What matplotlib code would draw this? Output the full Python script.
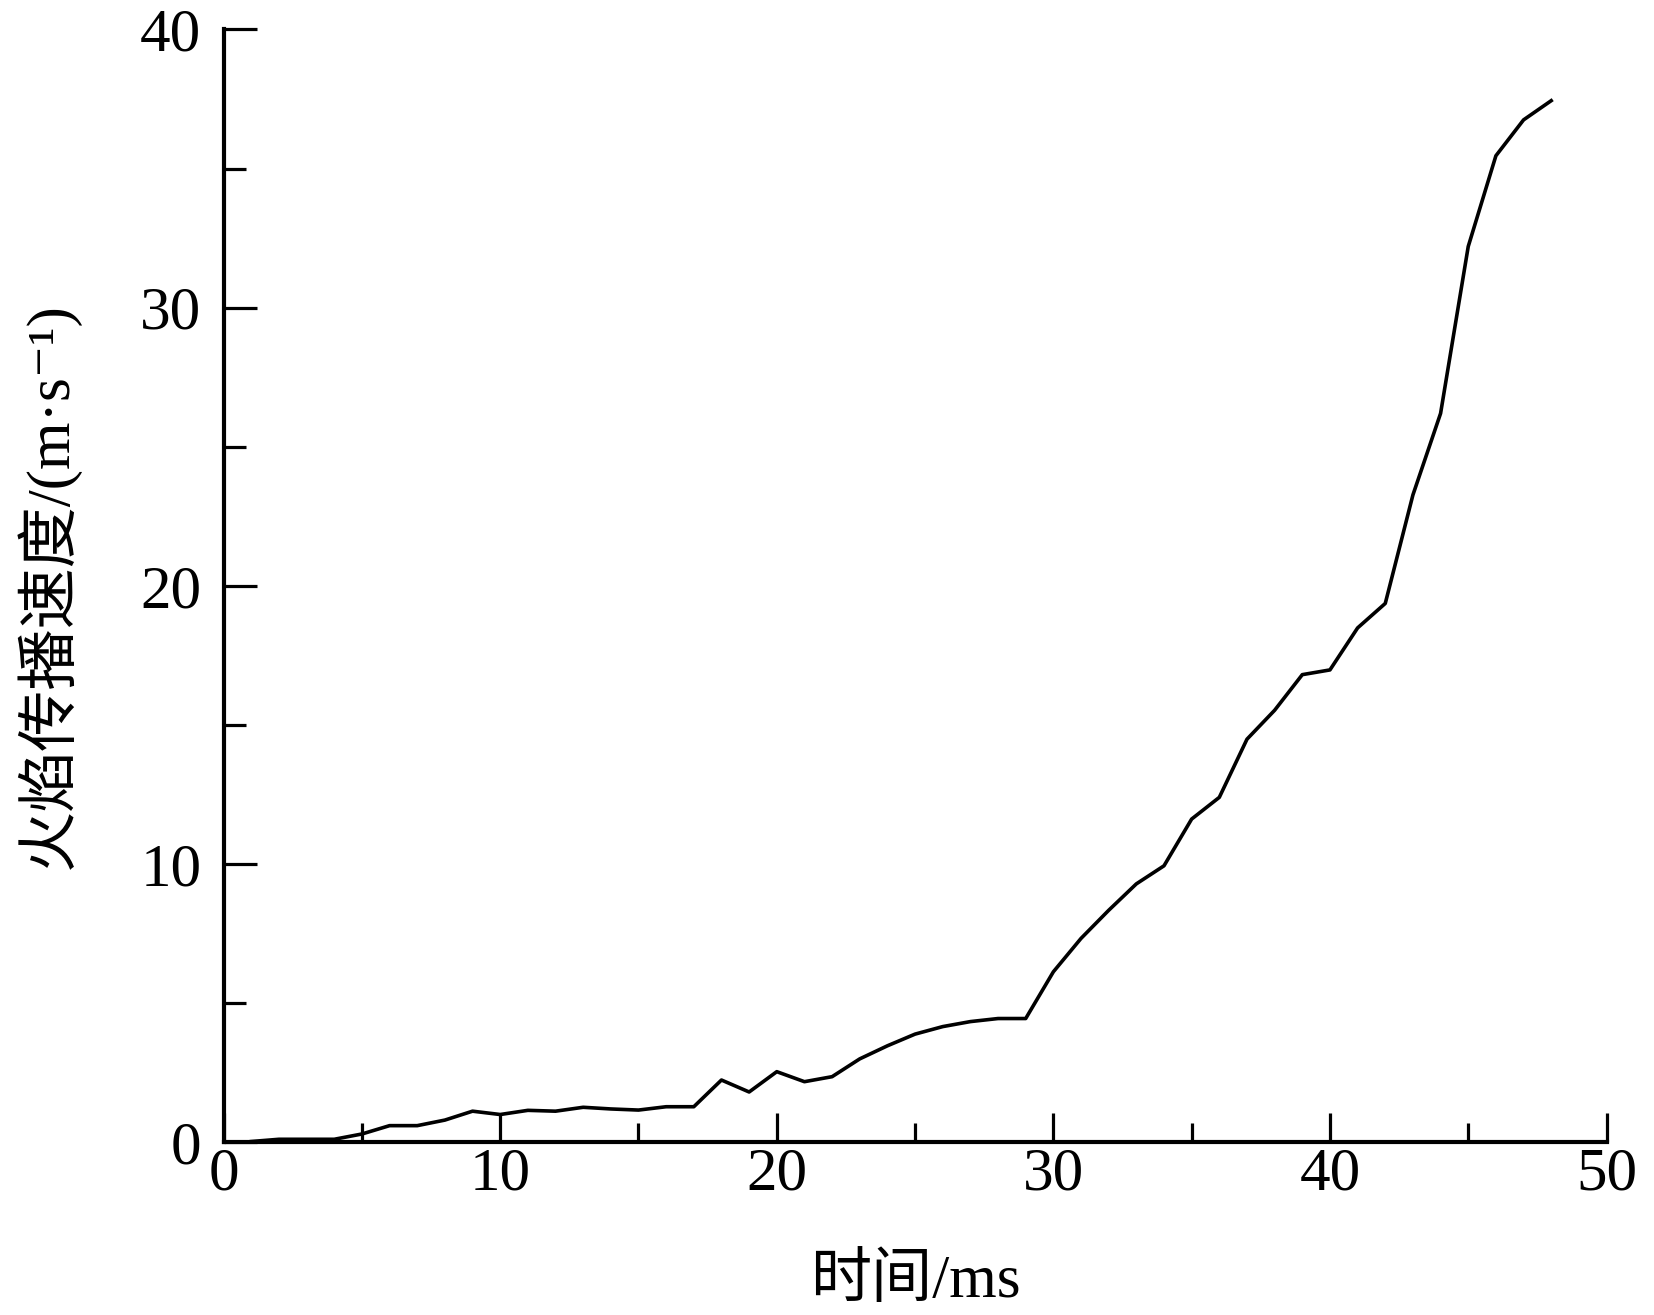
import matplotlib
matplotlib.use("Agg")
import matplotlib.pyplot as plt
from matplotlib.ticker import MultipleLocator

plt.rcParams['font.family'] = ['Liberation Serif', 'Noto Sans CJK SC', 'DejaVu Sans']

time_ms = [1, 2, 3, 4, 5, 6, 7, 8, 9, 10, 11, 12, 13, 14, 15, 16, 17, 18, 19, 20,
           21, 22, 23, 24, 25, 26, 27, 28, 29, 30, 31, 32, 33, 34, 35, 36, 37, 38,
           39, 40, 41, 42, 43, 44, 45, 46, 47, 48]
speed = [0.03, 0.11, 0.11, 0.11, 0.30, 0.60, 0.60, 0.80, 1.12, 1.00, 1.15, 1.12,
         1.26, 1.20, 1.16, 1.28, 1.28, 2.24, 1.81, 2.54, 2.18, 2.36, 3.00, 3.47,
         3.89, 4.16, 4.34, 4.45, 4.45, 6.13, 7.33, 8.34, 9.29, 9.94, 11.62, 12.40,
         14.49, 15.53, 16.81, 16.98, 18.49, 19.37, 23.27, 26.20, 32.20, 35.46,
         36.75, 37.44]

x_label = "时间/ms"
y_label = "火焰传播速度/(m·s\u207b\u00b9)"

fig = plt.figure(figsize=(16.54, 13.15), dpi=100)
ax = fig.add_axes([0.1352, 0.1313, 0.8361, 0.8463])

ax.plot(time_ms, speed, color='black', linewidth=2.6)

ax.set_xlim(0, 50)
ax.set_ylim(0, 40)
ax.xaxis.set_major_locator(MultipleLocator(10))
ax.xaxis.set_minor_locator(MultipleLocator(5))
ax.yaxis.set_major_locator(MultipleLocator(10))
ax.yaxis.set_minor_locator(MultipleLocator(5))

for s in ['top', 'right']:
    ax.spines[s].set_visible(False)
for s in ['left', 'bottom']:
    ax.spines[s].set_linewidth(3.0)

ax.tick_params(axis='x', which='major', direction='in', length=21, width=2.3,
               labelsize=44, pad=3)
ax.tick_params(axis='x', which='minor', direction='in', length=13.5, width=2.3)
ax.tick_params(axis='y', which='major', direction='in', length=24, width=2.3,
               labelsize=44, pad=16)
ax.tick_params(axis='y', which='minor', direction='in', length=16, width=2.3)

ax.set_xlabel(x_label, fontsize=44, va='center')
ax.xaxis.set_label_coords(0.5, -0.1254)
ax.set_ylabel(y_label, fontsize=44, va='center')
ax.yaxis.set_label_coords(-0.1277, 0.5)

fig.savefig("out.png", dpi=100, facecolor='white')
